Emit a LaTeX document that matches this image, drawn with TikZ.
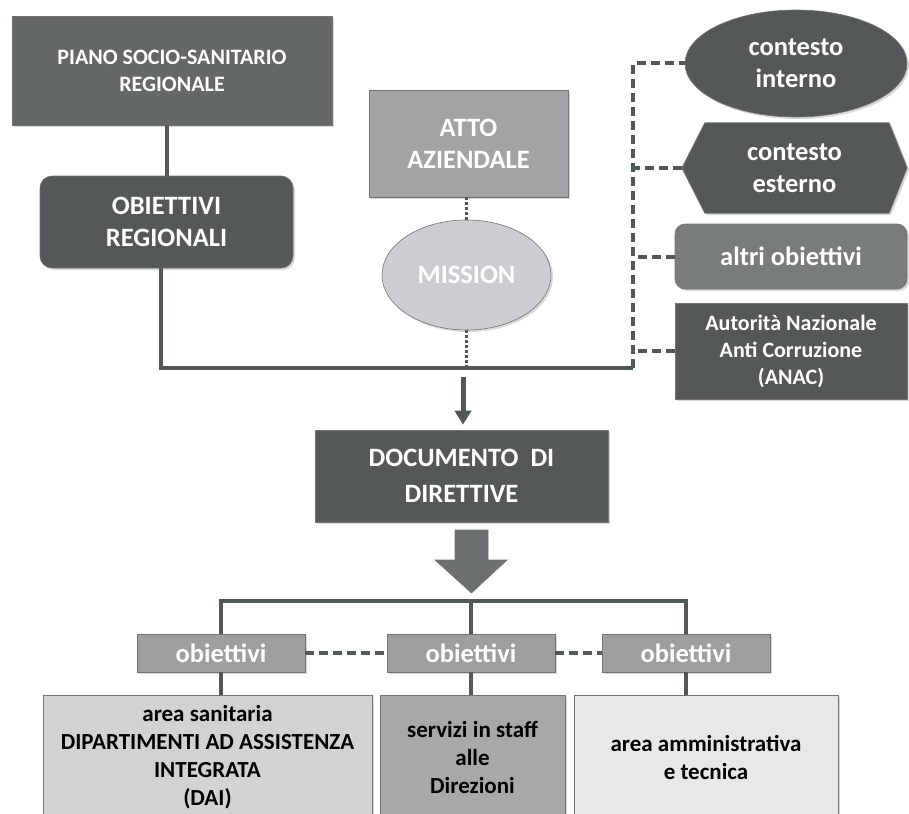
\documentclass[tikz,border=0pt]{standalone}
\usepackage{fontspec}
\setmainfont{Carlito}
\usetikzlibrary{shapes.geometric,shadows,arrows.meta,backgrounds}

\definecolor{pianogray}{RGB}{100,104,105}
\definecolor{darkgray}{RGB}{84,88,89}
\definecolor{midgray}{RGB}{120,124,125}
\definecolor{attogray}{RGB}{163,163,165}
\definecolor{missiongray}{RGB}{204,205,208}
\definecolor{obgray}{RGB}{158,158,160}
\definecolor{lightgray}{RGB}{210,210,212}
\definecolor{staffgray}{RGB}{168,168,170}
\definecolor{palegray}{RGB}{232,232,234}
\definecolor{linegray}{RGB}{80,88,88}

\newcommand{\fsz}[2]{\bfseries\fontsize{#1}{#2}\selectfont}

\tikzset{
  box/.style={draw=black!55, line width=0.6pt, text=white, align=center,
    inner sep=0pt, font=\fsz{26.5}{32},
    drop shadow={shadow xshift=2pt, shadow yshift=-2pt, opacity=0.3}},
  areabox/.style={box, text=black, font=\fsz{23}{28}},
  link/.style={draw=linegray, line width=4pt},
  dashlink/.style={link, dash pattern=on 9pt off 5pt},
  dotlink/.style={link, line width=3pt, dash pattern=on 2.5pt off 2.5pt}
}

\begin{document}
\begin{tikzpicture}[x=1pt,y=-1pt]
  \useasboundingbox (0,0) rectangle (909,813);

  \node[box, fill=pianogray, minimum width=320pt, minimum height=109pt,
    font=\fsz{22}{27}] (piano) at (172,70.5) {PIANO SOCIO-SANITARIO\\REGIONALE};
  \node[box, fill=darkgray, rounded corners=12pt, minimum width=253pt,
    minimum height=92pt] (obreg) at (166.5,222) {OBIETTIVI\\REGIONALI};
  \node[box, fill=attogray, minimum width=199pt, minimum height=107pt]
    (atto) at (468.5,143.5) {ATTO\\AZIENDALE};
  \node[box, ellipse, fill=missiongray, minimum width=169pt, minimum height=110pt]
    (mission) at (466.5,275) {MISSION};

  \node[box, ellipse, fill=darkgray, minimum width=222pt, minimum height=107pt]
    (cint) at (796,63.5) {contesto\\interno};
  \node[text=white, align=center, inner sep=0pt, font=\fsz{26.5}{32},
    minimum width=225pt, minimum height=90pt] (cest) at (794.5,168) {contesto\\esterno};
  \begin{scope}[on background layer]
    \fill[fill=darkgray, draw=black!55, line width=0.6pt,
      drop shadow={shadow xshift=2pt, shadow yshift=-2pt, opacity=0.3}]
      (cest.west) -- ([xshift=23pt]cest.north west) -- ([xshift=-18pt]cest.north east)
      -- (cest.east) -- ([xshift=-18pt]cest.south east) -- ([xshift=23pt]cest.south west) -- cycle;
  \end{scope}
  \node[box, fill=midgray, rounded corners=10pt, minimum width=232pt,
    minimum height=65pt] (altri) at (791,256.5) {altri obiettivi};
  \node[box, fill=darkgray, minimum width=232pt, minimum height=96pt,
    font=\fsz{22}{27}] (anac) at (791,351) {Autorità Nazionale\\Anti Corruzione\\(ANAC)};

  \node[box, fill=darkgray, minimum width=293pt, minimum height=92pt,
    font=\fsz{26.5}{36}] (doc) at (461.5,476) {DOCUMENTO~~DI\\DIRETTIVE};

  \node[box, fill=obgray, minimum width=168pt, minimum height=38pt] (ob1) at (221,653) {obiettivi};
  \node[box, fill=obgray, minimum width=168pt, minimum height=38pt] (ob2) at (471,653) {obiettivi};
  \node[box, fill=obgray, minimum width=168pt, minimum height=38pt] (ob3) at (686,653) {obiettivi};

  \node[areabox, fill=lightgray, minimum width=329pt, minimum height=124pt]
    (area1) at (207.5,757) {area sanitaria\\DIPARTIMENTI AD ASSISTENZA\\INTEGRATA\\(DAI)};
  \node[areabox, fill=staffgray, minimum width=185pt, minimum height=124pt]
    (area2) at (472.5,757) {servizi in staff\\alle\\Direzioni};
  \node[areabox, fill=palegray, minimum width=264pt, minimum height=124pt]
    (area3) at (706,757) {area amministrativa\\e tecnica};

  \coordinate (br) at (633,368);
  \coordinate (bus) at (471,601);

  \draw[link] (obreg.north |- piano.south) -- (obreg.north);
  \draw[link] ([xshift=-6pt]obreg.south) |- (br);
  \draw[dashlink] (br) |- (cint.west);
  \draw[dashlink] (cest.west) -- (cest.west -| br);
  \draw[dashlink] (altri.west) -- (altri.west -| br);
  \draw[dashlink] (anac.west) -- (anac.west -| br);
  \draw[dotlink] (mission.north |- atto.south) -- (mission.north);
  \draw[dotlink] (mission.south) -- (mission.south |- br);
  \draw[link, line width=5pt, -{Triangle[width=16pt,length=14pt]}, shorten <=9pt, shorten >=5pt]
    ([xshift=1.5pt]doc.north |- br) -- ([xshift=1.5pt]doc.north);

  \fill[fill=midgray!90!black, draw=black!55, line width=0.6pt]
    (455,530) -- (488,530) -- (488,560) -- (507,560) -- (471.5,593)
    -- (435,560) -- (455,560) -- cycle;

  \draw[link] (ob1.north) |- (bus) -| (ob3.north);
  \draw[link] (ob2.north) -- (ob2.north |- bus);
  \draw[dashlink] (ob1) -- (ob2);
  \draw[dashlink] (ob2) -- (ob3);
  \draw[link] (ob1.south) -- (ob1.south |- area1.north);
  \draw[link] (ob2.south) -- (ob2.south |- area2.north);
  \draw[link] (ob3.south) -- (ob3.south |- area3.north);
\end{tikzpicture}
\end{document}
